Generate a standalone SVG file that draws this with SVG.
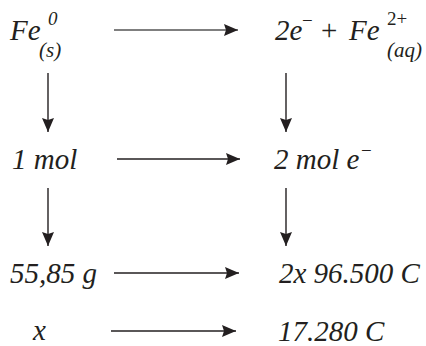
<svg xmlns="http://www.w3.org/2000/svg" width="426" height="346" viewBox="0 0 426 346">
<style>
.t text{font-family:'Liberation Serif','Times New Roman',serif;font-style:italic;fill:#231f20}
.t .n{font-style:normal}
.m{font-size:29px}
.s{font-size:19px}
.u{font-size:21px}
.c line{stroke:#231f20;stroke-width:1.4}
</style>
<defs>
<marker id="ah" viewBox="0 0 14 12" refX="14" refY="6" markerWidth="14" markerHeight="12" markerUnits="userSpaceOnUse" orient="auto">
<path d="M0,0 L14,6 L0,12 L2,6 Z" fill="#231f20"/>
</marker>
</defs>
<rect width="426" height="346" fill="#fff"/>
<g class="t">
<g id="fe0">
<text class="m" x="10" y="40">Fe</text>
<text class="s" x="48" y="25">0</text>
<text class="u" x="39" y="57">(s)</text>
</g>
<g id="products">
<text class="m" x="275" y="40">2e</text>
<text class="s n" x="302" y="27">−</text>
<text class="m n" x="321" y="40">+</text>
<text class="m" x="349" y="40">Fe</text>
<text class="s n" x="387" y="25">2+</text>
<text class="u" x="387" y="57">(aq)</text>
</g>
<g id="onemol"><text class="m" x="12" y="169">1 mol</text></g>
<g id="twomol">
<text class="m" x="274" y="169">2 mol e</text>
<text class="s n" x="361" y="157">−</text>
</g>
<g id="mass"><text class="m" x="10" y="283">55,85 g</text></g>
<g id="charge"><text class="m" x="279" y="283">2x 96.500 C</text></g>
<g id="x"><text class="m" x="33" y="340">x</text></g>
<g id="q"><text class="m" x="278" y="341">17.280 C</text></g>
</g>
<g class="c" id="connectors">
<line x1="114" y1="30" x2="238" y2="30" marker-end="url(#ah)" style="stroke:#555"/>
<line x1="117" y1="159" x2="240" y2="159" marker-end="url(#ah)"/>
<line x1="114" y1="273" x2="239" y2="273" marker-end="url(#ah)"/>
<line x1="111" y1="331" x2="236" y2="331" marker-end="url(#ah)"/>
<line x1="48" y1="73" x2="48" y2="132" marker-end="url(#ah)"/>
<line x1="286" y1="73" x2="286" y2="132" marker-end="url(#ah)"/>
<line x1="48" y1="188" x2="48" y2="246" marker-end="url(#ah)"/>
<line x1="286" y1="188" x2="286" y2="246" marker-end="url(#ah)"/>
</g>
</svg>
